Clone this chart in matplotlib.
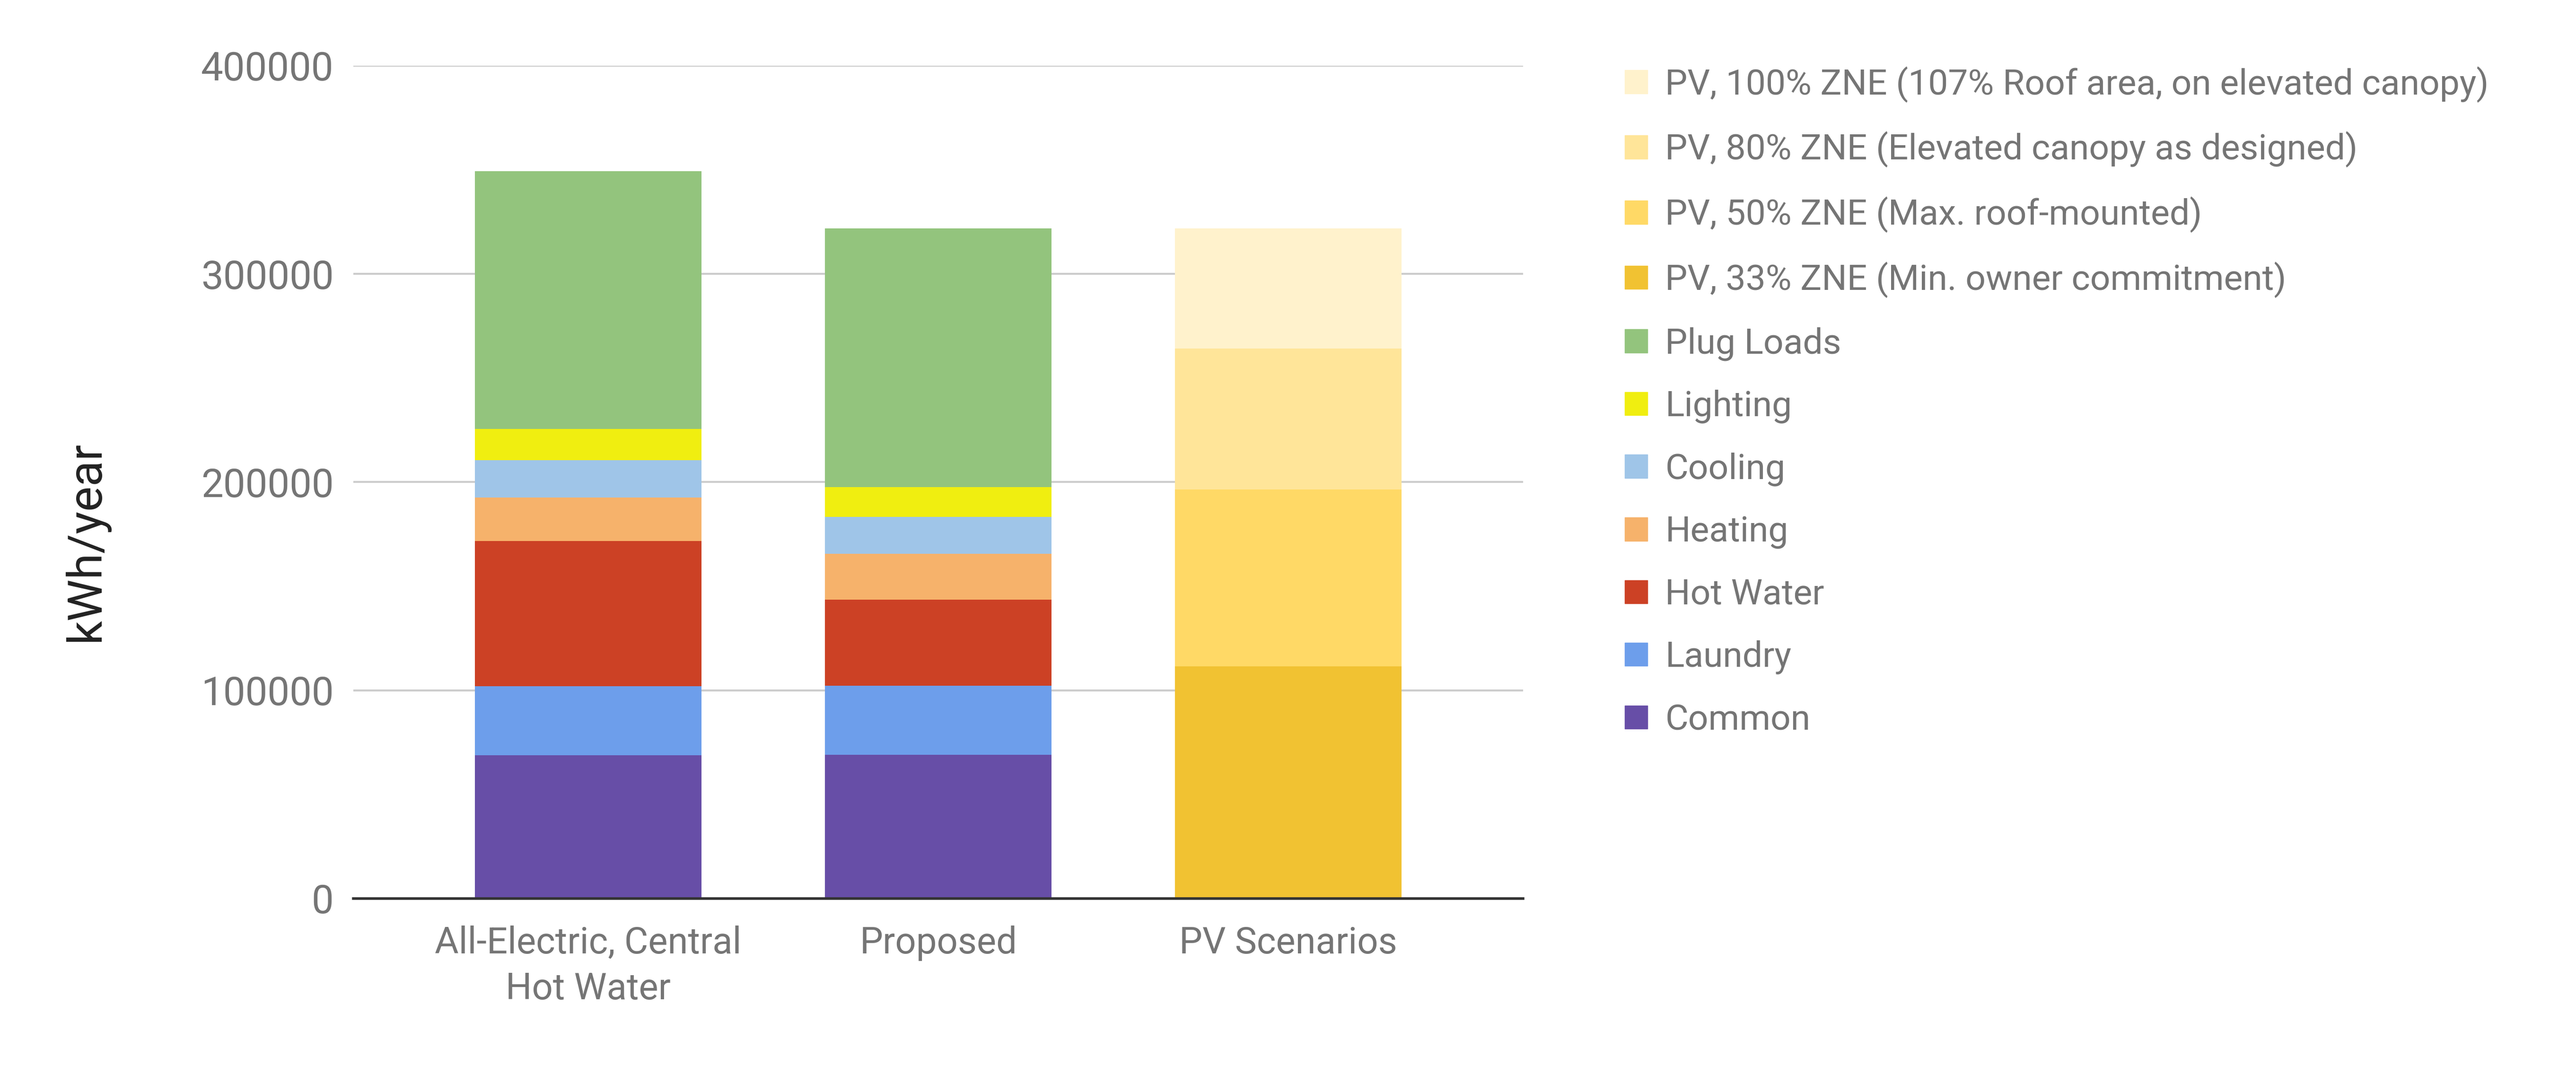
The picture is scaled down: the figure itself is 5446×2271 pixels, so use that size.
import matplotlib
matplotlib.use("Agg")
import matplotlib.pyplot as plt
import numpy as np
from matplotlib.patches import Patch

plt.rcParams['font.family'] = ['Roboto', 'DejaVu Sans']

categories = ["All-Electric, Central\nHot Water", "Proposed", "PV Scenarios"]

# stacked segments, bottom to top (kWh/year)
load_names = ["Common", "Laundry", "Hot Water", "Heating", "Cooling", "Lighting", "Plug Loads"]
load_colors = ["#674ea7", "#6d9eeb", "#cc4125", "#f6b26b", "#9fc5e8", "#f0ee10", "#93c47d"]
all_electric = [68900, 33100, 69800, 20700, 18100, 15000, 123700]
proposed = [69100, 33100, 41400, 21900, 17700, 14300, 124400]

pv_names = ["PV, 33% ZNE (Min. owner commitment)",
            "PV, 50% ZNE (Max. roof-mounted)",
            "PV, 80% ZNE (Elevated canopy as designed)",
            "PV, 100% ZNE (107% Roof area, on elevated canopy)"]
pv_colors = ["#f1c232", "#ffd966", "#ffe599", "#fff2cc"]
pv_values = [111400, 85000, 67800, 57700]

yticks = [0, 100000, 200000, 300000, 400000]

fig = plt.figure(figsize=(54.46, 22.71), dpi=100)
ax = fig.add_axes([0.1372, 0.1634, 0.4541, 0.7754])

width = 0.648
x = np.arange(len(categories))

bottom = np.zeros(2)
for i, name in enumerate(load_names):
    vals = np.array([all_electric[i], proposed[i]])
    ax.bar(x[:2], vals, width, bottom=bottom, color=load_colors[i], zorder=3)
    bottom += vals

b = 0
for i, name in enumerate(pv_names):
    ax.bar(x[2], pv_values[i], width, bottom=b, color=pv_colors[i], zorder=3)
    b += pv_values[i]

ax.set_xlim(-0.671, 2.671)
ax.set_ylim(0, 400000)
ax.set_yticks(yticks)
ax.set_yticklabels([str(v) for v in yticks])
ax.set_xticks(x)
ax.set_xticklabels(categories, linespacing=1.38)

ax.grid(axis='y', color='#cccccc', linewidth=3, zorder=0)
ax.set_axisbelow(True)
for s in ['top', 'right', 'left']:
    ax.spines[s].set_visible(False)
ax.spines['bottom'].set_color('#333333')
ax.spines['bottom'].set_linewidth(4)
ax.spines['bottom'].set_zorder(4)

ax.tick_params(axis='both', length=0, labelcolor='#757575')
ax.tick_params(axis='y', pad=30, labelsize=60)
ax.tick_params(axis='x', pad=41, labelsize=56)

fig.text(182 / 5446, 1 - 1145 / 2271, "kWh/year", rotation=90, fontsize=72,
         color='#222222', ha='center', va='center')

handles = [Patch(color=c) for c in pv_colors[::-1]] + [Patch(color=c) for c in load_colors[::-1]]
labels = pv_names[::-1] + load_names[::-1]
leg = fig.legend(handles, labels, loc='upper left', bbox_to_anchor=(3435 / 5446, 1 - 140 / 2271),
                 frameon=False, fontsize=54, handlelength=0.64, handleheight=0.64,
                 handletextpad=0.5, labelspacing=0.815, borderpad=0, borderaxespad=0)
for t in leg.get_texts():
    t.set_color('#757575')

fig.savefig("out.png", dpi=100, facecolor='white')
